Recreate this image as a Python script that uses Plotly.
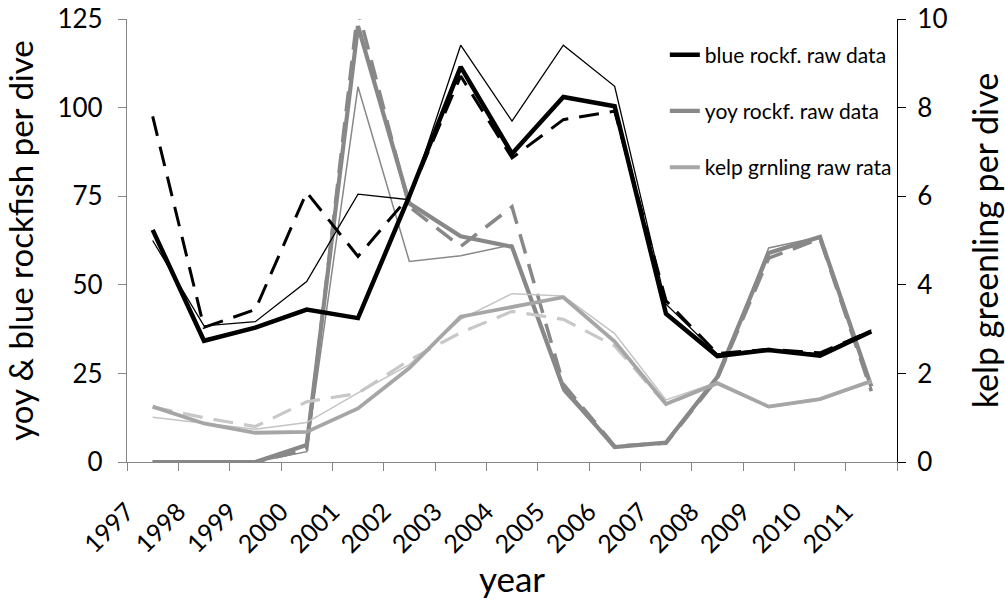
import plotly.graph_objects as go

years = [1997, 1998, 1999, 2000, 2001, 2002, 2003, 2004, 2005, 2006, 2007, 2008, 2009, 2010, 2011]
tick_labels = [str(y) for y in years]

# blue rockfish (left axis)
blue_raw = [65.5, 34.2, 37.9, 43.0, 40.6, 75.0, 111.5, 87.0, 103.0, 100.4, 41.8, 29.9, 31.6, 30.0, 36.8]
blue_thin = [62.5, 38.4, 39.6, 50.9, 75.6, 74.0, 117.6, 96.2, 117.6, 106.0, 44.5, 30.5, 31.8, 30.6, 37.3]
blue_dash = [97.5, 38.0, 43.0, 76.1, 58.0, 75.0, 108.9, 85.8, 96.6, 99.0, 45.5, 30.6, 31.8, 30.8, 37.0]

# yoy rockfish (left axis)
yoy_raw = [0, 0, 0, 4.8, 123.0, 73.0, 63.7, 60.7, 21.0, 4.2, 5.5, 24.0, 59.0, 63.5, 21.3]
yoy_thin = [0, 0, 0, 2.9, 105.9, 56.6, 58.2, 61.3, 20.0, 4.0, 5.3, 23.5, 60.4, 63.5, 20.5]
yoy_dash = [0, 0, 0, 3.5, 127.7, 72.0, 60.8, 72.0, 22.0, 4.5, 5.3, 23.5, 57.5, 63.0, 20.0]

# kelp greenling (right axis)
kelp_raw = [1.25, 0.87, 0.66, 0.68, 1.21, 2.12, 3.28, 3.51, 3.72, 2.72, 1.31, 1.78, 1.25, 1.42, 1.83]
kelp_thin = [1.01, 0.88, 0.74, 0.89, 1.56, 2.2, 3.22, 3.8, 3.75, 2.9, 1.4, 1.8, 1.25, 1.4, 1.8]
kelp_dash = [1.24, 1.0, 0.8, 1.36, 1.55, 2.3, 2.92, 3.4, 3.22, 2.62, 1.3, 1.78, 1.25, 1.42, 1.82]

x_mid = [y + 0.5 for y in years]

FONT = "Lato"
DASH = "20px,11px"
fig = go.Figure()

def add(vals, color, width, dash=None, name=None, show=False, axis="y", group=None, rank=None):
    fig.add_trace(go.Scatter(
        x=x_mid, y=vals, mode="lines", yaxis=axis,
        line=dict(color=color, width=width, dash=dash),
        name=name if name else "", showlegend=show, legendgroup=group,
        legendrank=rank if rank else 1000, hoverinfo="skip"))

# kelp greenling
add(kelp_dash, "#C8C8C8", 3.2, DASH, axis="y2")
add(kelp_thin, "#C4C4C4", 1.5, axis="y2")
add(kelp_raw, "#A6A6A6", 3.8, name="kelp grnling raw rata", show=True, axis="y2", group="g3", rank=3)
# yoy rockfish
add(yoy_dash, "#888888", 3.5, DASH)
add(yoy_thin, "#888888", 1.5)
add(yoy_raw, "#888888", 4.2, name="yoy rockf. raw data", show=True, group="g2", rank=2)
# blue rockfish
add(blue_dash, "#000000", 3.0, DASH)
add(blue_thin, "#000000", 1.3)
add(blue_raw, "#000000", 4.5, name="blue rockf. raw data", show=True, group="g1", rank=1)

fig.update_layout(
    width=1005, height=599,
    margin=dict(l=127, r=108, t=19, b=137, autoexpand=False),
    paper_bgcolor="white", plot_bgcolor="white",
    font=dict(family=FONT, color="black"),
    showlegend=True,
    legend=dict(x=0.6985, y=0.965, xanchor="left", yanchor="top",
                font=dict(size=21, family=FONT, color="black"),
                tracegroupgap=26, traceorder="grouped",
                bgcolor="rgba(0,0,0,0)"),
    xaxis=dict(range=[1997, 2012], tickmode="array",
               tickvals=years + [2012], ticktext=tick_labels + [""],
               tickangle=-45, ticks="outside", ticklen=8, tickcolor="#868686",
               showline=True, linecolor="#868686", linewidth=1.3,
               showgrid=False, zeroline=False,
               tickfont=dict(size=25, family=FONT),
               ticklabelstandoff=16, ticklabeloverflow="allow",
               title=dict(text="year", font=dict(size=35, family=FONT), standoff=28)),
    yaxis=dict(range=[0, 125], tickmode="linear", tick0=0, dtick=25,
               ticks="outside", ticklen=8, tickcolor="#868686",
               showline=True, linecolor="#868686", linewidth=1.3,
               showgrid=False, zeroline=False, ticklabeloverflow="allow",
               ticklabelstandoff=10,
               tickfont=dict(size=26, family=FONT),
               title=dict(text="yoy & blue rockfish per dive", font=dict(size=33, family=FONT), standoff=20)),
    yaxis2=dict(range=[0, 10], tickmode="linear", tick0=0, dtick=2,
                overlaying="y", side="right", anchor="x",
                ticks="outside", ticklen=8, tickcolor="black",
                showline=True, linecolor="black", linewidth=1.3,
                showgrid=False, zeroline=False, ticklabeloverflow="allow",
                ticklabelstandoff=6,
                tickfont=dict(size=26, family=FONT),
                title=dict(text="kelp greenling per dive", font=dict(size=34, family=FONT), standoff=32)),
)

fig.write_html("out.html", config={"displayModeBar": False},
               post_script="document.body.style.margin='0';")
